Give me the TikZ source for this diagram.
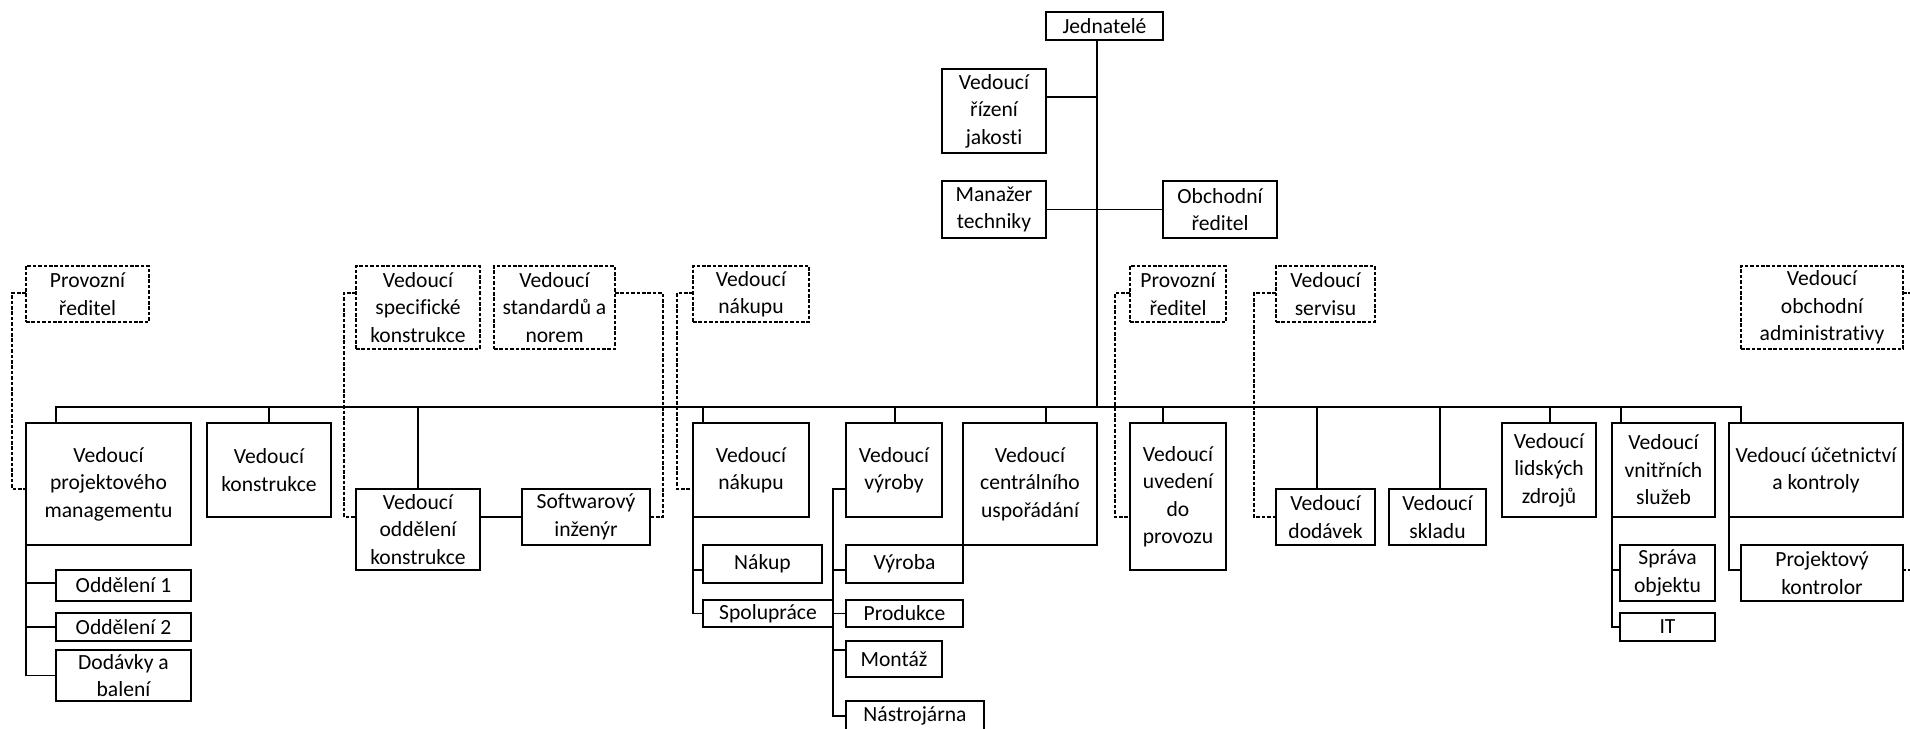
\documentclass[tikz,border=0pt]{standalone}
\usepackage{fontspec}
\setmainfont{Carlito}[Ligatures=NoCommon]
\tikzset{
  box/.style={draw=black, line width=0.7pt, rectangle, inner sep=0pt, outer sep=0pt, align=center,
    font=\fontsize{10.8pt}{13.75pt}\selectfont, text=black},
  dbox/.style={box, dash pattern=on 1.8pt off 0.9pt},
  conn/.style={draw=black, line width=0.7pt},
  dconn/.style={conn, dash pattern=on 1.8pt off 0.9pt},
}
\newcommand{\obox}[7][box]{\node[#1, minimum width={0.5pt*(#5-#3)}, minimum height={0.5pt*(#6-#4)}] (#2) at ({(#3+#5)/2},{(#4+#6)/2}) {#7};}
\begin{document}
\begin{tikzpicture}[x=0.5pt,y=-0.5pt]
\useasboundingbox (0,0) rectangle (1910,728);
% top
\obox{jed}{1046}{12}{1163}{40}{Jednatelé}
\obox{riz}{942}{69}{1046}{153}{Vedoucí\\řízení\\jakosti}
\obox{man}{942}{181}{1046}{238}{Manažer\\techniky}
\obox{obr}{1163}{181}{1277}{238}{Obchodní\\ředitel}
% dashed
\obox[dbox]{pr1}{26}{266}{149}{322}{Provozní\\ředitel}
\obox[dbox]{vsk}{356}{266}{480}{349}{Vedoucí\\specifické\\konstrukce}
\obox[dbox]{vsn}{494}{266}{615}{349}{Vedoucí\\standardů a\\norem}
\obox[dbox]{vnd}{693}{266}{809}{322}{Vedoucí\\nákupu}
\obox[dbox]{pr2}{1130}{266}{1226}{322}{Provozní\\ředitel}
\obox[dbox]{vser}{1276}{266}{1375}{322}{Vedoucí\\servisu}
\obox[dbox]{voa}{1741}{266}{1903}{349}{Vedoucí\\obchodní\\administrativy}
% level 2
\obox{vpm}{26}{423}{191}{545}{Vedoucí\\projektového\\managementu}
\obox{vk}{207}{423}{331}{517}{Vedoucí\\konstrukce}
\obox{vok}{356}{489}{480}{570}{Vedoucí\\oddělení\\konstrukce}
\obox{sw}{522}{489}{650}{545}{Softwarový\\inženýr}
\obox{vn}{693}{423}{809}{517}{Vedoucí\\nákupu}
\obox{vv}{846}{423}{942}{517}{Vedoucí\\výroby}
\obox{vcu}{963}{423}{1097}{545}{Vedoucí\\centrálního\\uspořádání}
\obox{vup}{1130}{423}{1226}{570}{Vedoucí\\uvedení\\do\\provozu}
\obox{vd}{1276}{489}{1375}{545}{Vedoucí\\dodávek}
\obox{vs}{1389}{489}{1486}{545}{Vedoucí\\skladu}
\obox{vlz}{1502}{423}{1596}{517}{Vedoucí\\lidských\\zdrojů}
\obox{vvs}{1612}{423}{1715}{517}{Vedoucí\\vnitřních\\služeb}
\obox{vuk}{1729}{423}{1903}{517}{Vedoucí účetnictví\\a kontroly}
% level 3
\obox{od1}{56}{570}{191}{601}{Oddělení 1}
\obox{od2}{56}{613}{191}{641}{Oddělení 2}
\obox{dab}{56}{650}{191}{701}{Dodávky a\\balení}
\obox{nak}{703}{545}{822}{583}{Nákup}
\obox{spo}{703}{600}{833}{627}{Spolupráce}
\obox{vyr}{846}{545}{963}{583}{Výroba}
\obox{pro}{846}{600}{963}{627}{Produkce}
\obox{mon}{846}{641}{942}{677}{Montáž}
\obox{nas}{846}{701}{984}{731}{Nástrojárna}
\obox{spr}{1620}{545}{1715}{601}{Správa\\objektu}
\obox{it}{1620}{613}{1715}{641}{IT}
\obox{pk}{1741}{545}{1903}{601}{Projektový\\kontrolor}
% trunk and bus
\coordinate (bus) at (0,407);
\coordinate (tk) at (1097,407);
\draw[conn] (jed.south -| tk) -- (tk);
\draw[conn] (riz.east |- 0,97) -- (tk |- 0,97);
\draw[conn] (man.east) -- (obr.west);
\draw[conn] (vpm.north -| 56,0) -- (bus -| 56,0) -- (bus -| 1741,0) -- (vuk.north -| 1741,0);
\draw[conn] (vk.north) -- (vk.north |- bus);
\draw[conn] (vok.north) -- (vok.north |- bus);
\draw[conn] (vn.north -| 703,0) -- (bus -| 703,0);
\draw[conn] (vv.north -| 895,0) -- (bus -| 895,0);
\draw[conn] (vcu.north -| 1046,0) -- (bus -| 1046,0);
\draw[conn] (vup.north -| 1163,0) -- (bus -| 1163,0);
\draw[conn] (vd.north -| 1317,0) -- (bus -| 1317,0);
\draw[conn] (vs.north -| 1440,0) -- (bus -| 1440,0);
\draw[conn] (vlz.north -| 1550,0) -- (bus -| 1550,0);
\draw[conn] (vvs.north -| 1621,0) -- (bus -| 1621,0);
% side branches
\draw[conn] (vok.east |- sw.west) -- (sw.west);
\draw[conn] (vpm.south west) |- (dab.west);
\draw[conn] (vpm.south west |- 0,583) -- (od1.west |- 0,583);
\draw[conn] (vpm.south west |- od2.west) -- (od2.west);
\draw[conn] (vn.south west) |- (spo.west);
\draw[conn] (vn.south west |- 0,570) -- (nak.west |- 0,570);
\coordinate (vx) at (833,489);
\draw[conn] (vv.west |- vx) -- (vx) |- (nas.west);
\draw[conn] (vx |- 0,570) -- (vyr.west |- 0,570);
\draw[conn] (vx |- pro.west) -- (pro.west);
\draw[conn] (vx |- 0,650) -- (mon.west |- 0,650);
\draw[conn] (vvs.south west) |- (it.west);
\draw[conn] (vvs.south west |- 0,570) -- (spr.west |- 0,570);
\draw[conn] (vuk.south west) |- (pk.west |- 0,570);
% dashed links
\draw[dconn] (pr1.west |- 0,293) -- ++(-14,0) |- (vpm.west |- 0,489);
\draw[dconn] (vsk.west |- 0,293) -- ++(-12,0) |- (vok.west |- 0,517);
\draw[dconn] (vsn.east |- 0,293) -- ++(48,0) |- (sw.east |- 0,517);
\draw[dconn] (vnd.west |- 0,293) -- ++(-16,0) |- (vn.west |- 0,489);
\draw[dconn] (pr2.west |- 0,293) -- ++(-15,0) |- (vup.west |- 0,517);
\draw[dconn] (vser.west |- 0,293) -- ++(-22,0) |- (vd.west |- 0,517);
\draw[dconn] (voa.east |- 0,293) -- ++(9,0) |- (pk.east |- 0,570);
\end{tikzpicture}
\end{document}
